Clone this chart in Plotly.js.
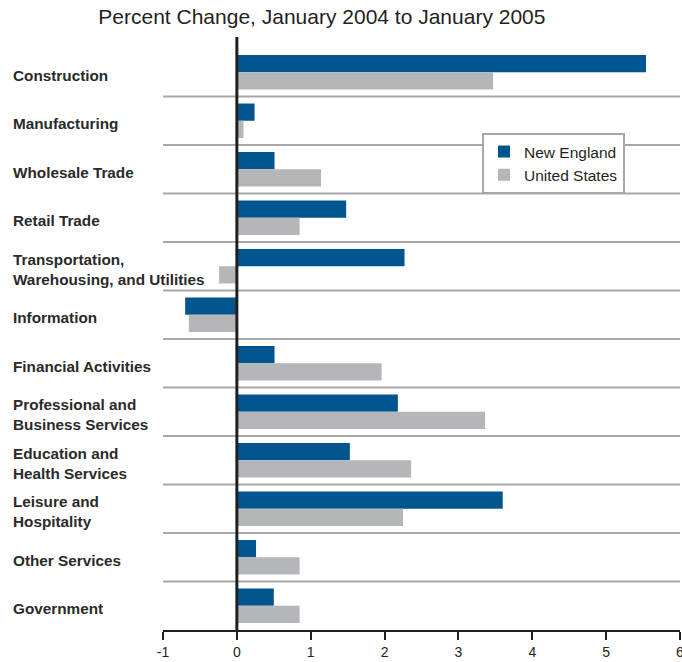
<!DOCTYPE html>
<html><head><meta charset="utf-8">
<script src="https://cdn.plot.ly/plotly-3.0.1.min.js"></script>
<style>body{margin:0;padding:0;background:#fff}</style>
</head><body>
<div id="chart" style="width:682px;height:662px"></div>
<script>
var categories = ["Construction","Manufacturing","Wholesale Trade","Retail Trade","Transportation, Warehousing, and Utilities","Information","Financial Activities","Professional and Business Services","Education and Health Services","Leisure and Hospitality","Other Services","Government"];
var categoryLabels = ["Construction","Manufacturing","Wholesale Trade","Retail Trade","Transportation,<br>Warehousing, and Utilities","Information","Financial Activities","Professional and<br>Business Services","Education and<br>Health Services","Leisure and<br>Hospitality","Other Services","Government"];
var newEngland = [5.54, 0.24, 0.51, 1.48, 2.27, -0.70, 0.51, 2.18, 1.53, 3.60, 0.26, 0.50];
var unitedStates = [3.47, 0.09, 1.14, 0.85, -0.24, -0.65, 1.96, 3.36, 2.36, 2.25, 0.85, 0.85];
var xTicks = [-1, 0, 1, 2, 3, 4, 5, 6];

var FONT = "Liberation Sans, Arial, sans-serif";
var traces = [
  {type:"bar", orientation:"h", name:"New England", y:categories, x:newEngland,
   marker:{color:"#00558f"}},
  {type:"bar", orientation:"h", name:"United States", y:categories, x:unitedStates,
   marker:{color:"#b5b6ba"}}
];

var shapes = [];
for (var i = 0; i < categories.length - 1; i++) {
  shapes.push({type:"line", xref:"paper", x0:0, x1:1, yref:"y", y0:i+0.5, y1:i+0.5,
    line:{color:"#a7a7a7", width:2}, layer:"below"});
}
shapes.push({type:"line", xref:"x", x0:0, x1:0, yref:"paper", y0:0, y1:1.019,
  line:{color:"#231f20", width:3}, layer:"above"});

var annotations = categories.map(function(c, i){
  return {xref:"paper", x:-0.294, xanchor:"left", yref:"y", y:c, yanchor:"middle",
    yshift:-3, text:categoryLabels[i], showarrow:false, align:"left",
    font:{family:FONT, size:15.3, color:"#2a2a2a", weight:"bold"}};
});

var layout = {
  width:682, height:662,
  margin:{l:163, r:2, t:48, b:32},
  paper_bgcolor:"#fff", plot_bgcolor:"#fff",
  title:{text:"Percent Change, January 2004 to January 2005", x:0.472, xanchor:"center",
    y:0.975, yanchor:"middle",
    font:{family:FONT, size:21, color:"#231f20"}},
  barmode:"group", bargap:0.29, bargroupgap:0,
  showlegend:true,
  legend:{x:0.617, y:0.854, xanchor:"left", yanchor:"top", bgcolor:"#fff",
    bordercolor:"#a7a7a7", borderwidth:2, traceorder:"normal",
    font:{family:FONT, size:15.5, color:"#231f20"}, itemwidth:30, entrywidth:155},
  xaxis:{range:[-1, 6], tickvals:xTicks, ticktext:xTicks.map(String), showgrid:false, zeroline:false,
    showline:true, linecolor:"#231f20", linewidth:2, ticks:"outside", ticklen:8, tickwidth:2,
    tickcolor:"#231f20", tickfont:{family:FONT, size:14, color:"#231f20"}, fixedrange:true,
    ticklabeloverflow:"allow"},
  yaxis:{type:"category", categoryorder:"array", categoryarray:categories,
    showticklabels:false, showgrid:false, zeroline:false, showline:false, ticks:"",
    range:[categories.length-0.5, -0.5]},
  shapes:shapes, annotations:annotations
};
Plotly.newPlot("chart", traces, layout, {displayModeBar:false, staticPlot:true});
</script>
</body></html>
